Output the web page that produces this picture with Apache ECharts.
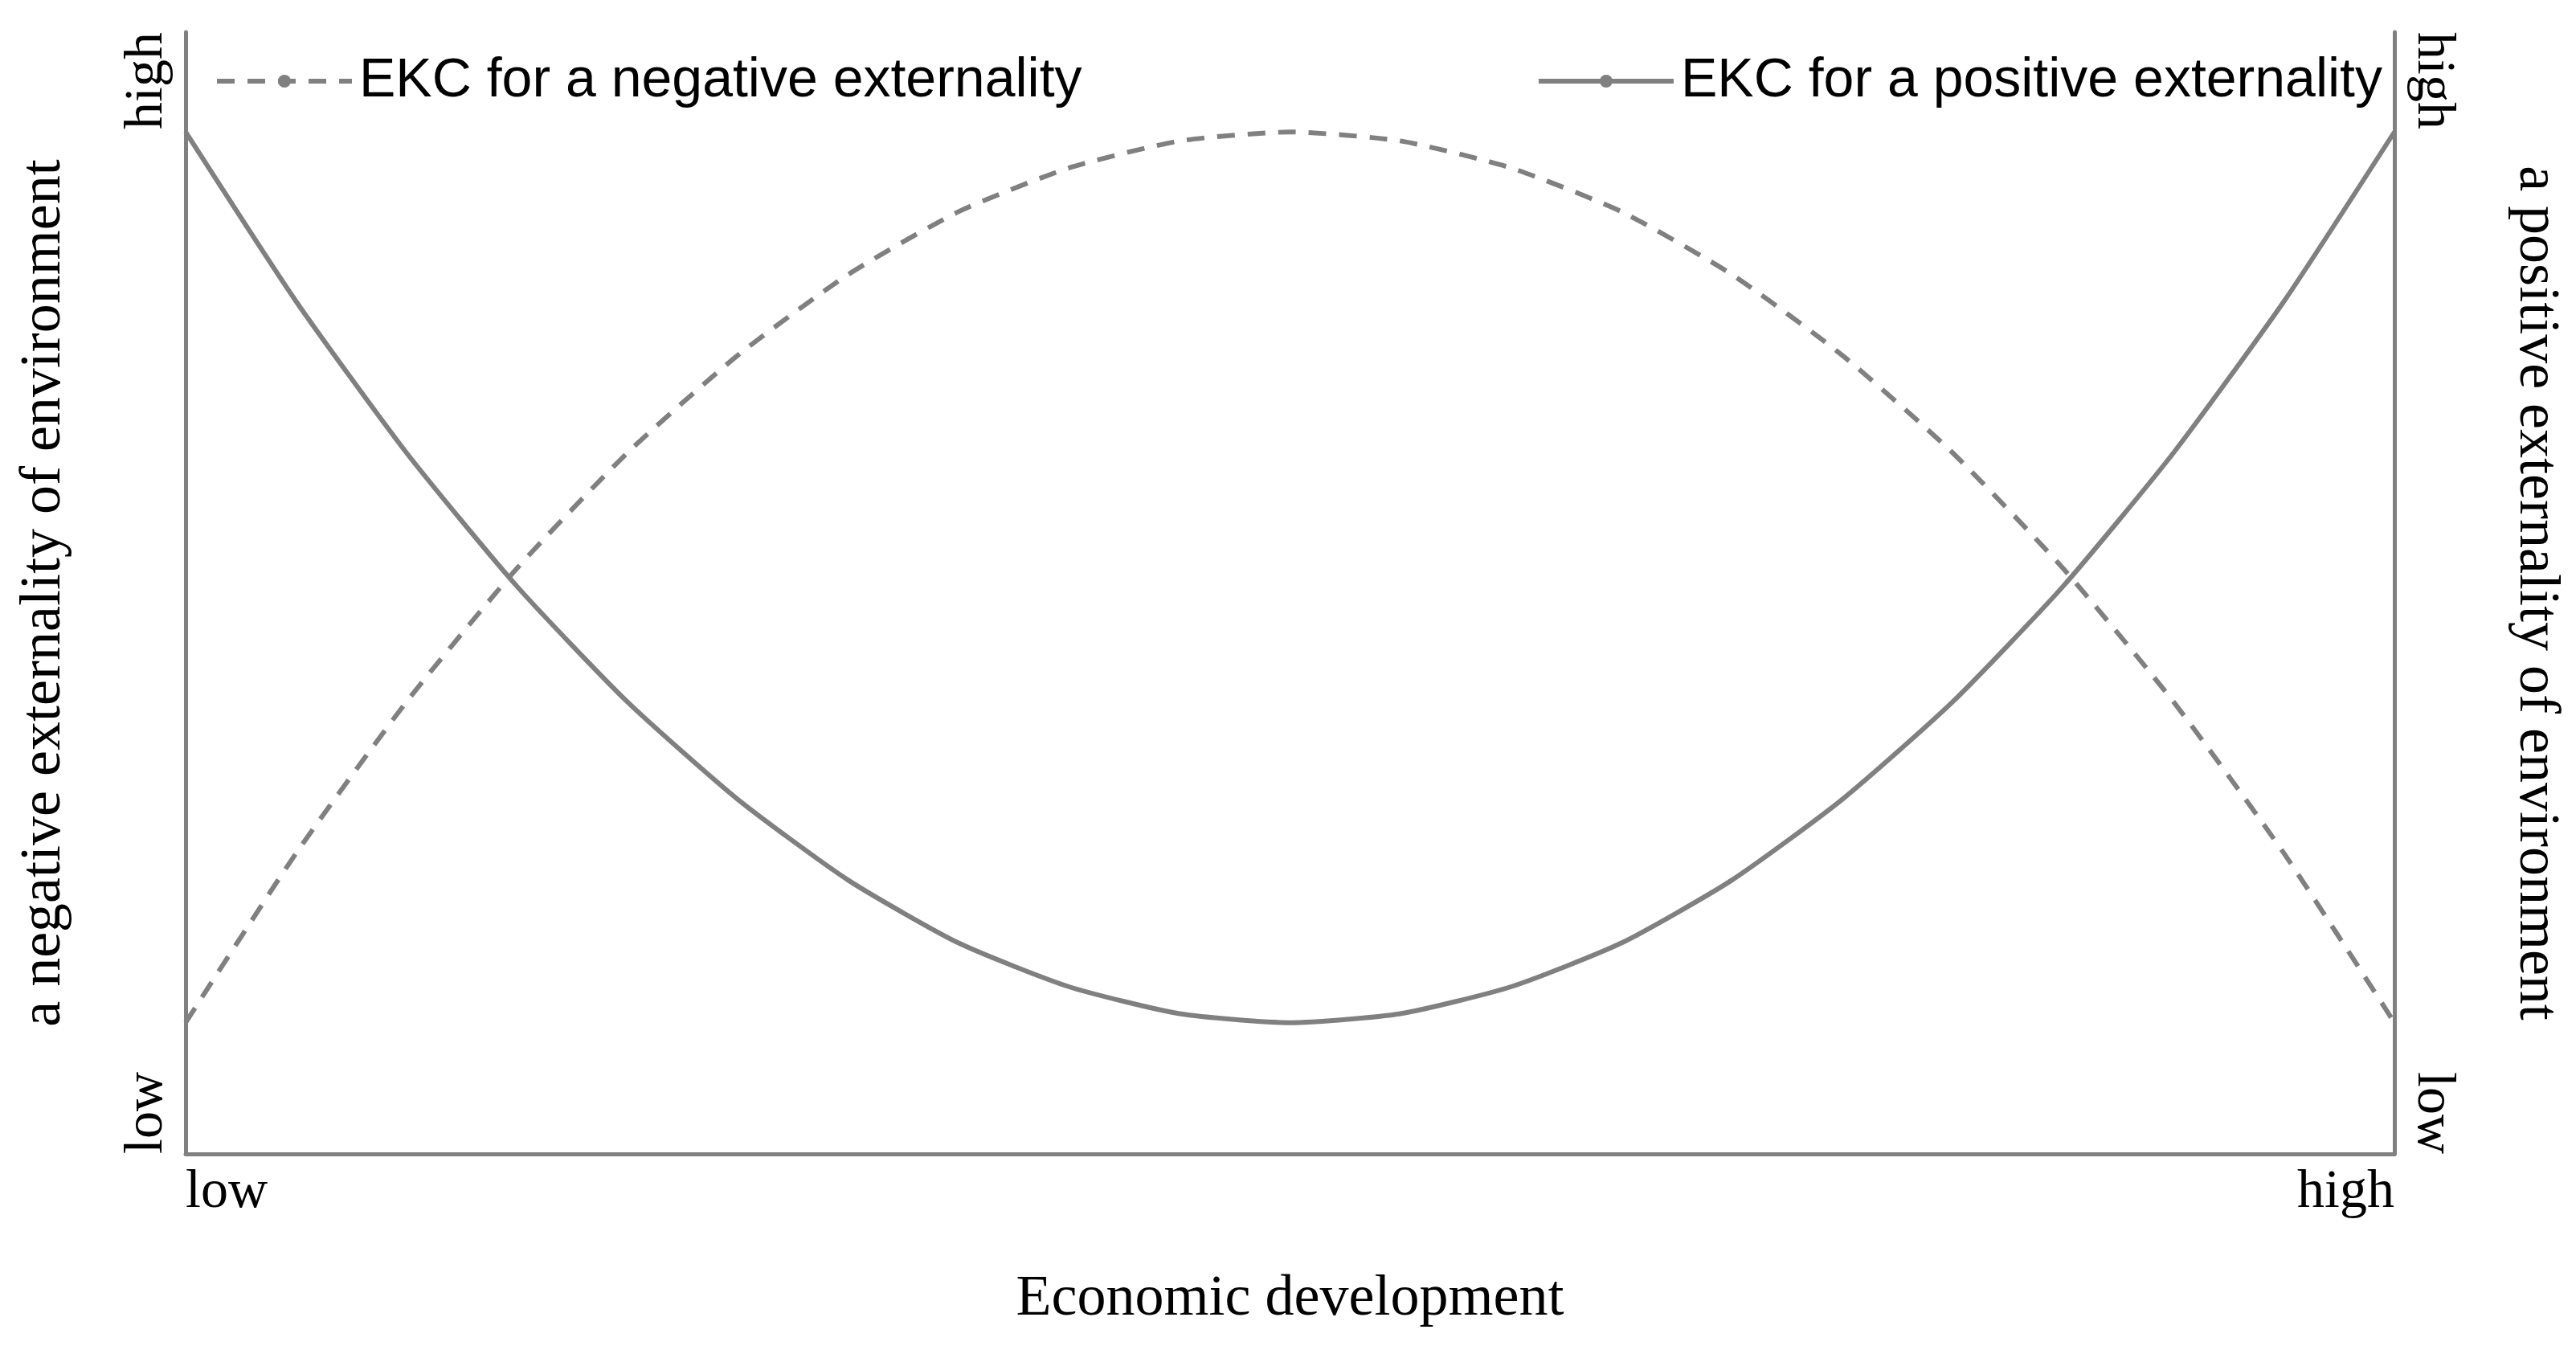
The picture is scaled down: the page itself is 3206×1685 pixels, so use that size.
<!DOCTYPE html>
<html><head><meta charset="utf-8">
<script src="https://cdn.jsdelivr.net/npm/echarts@6/dist/echarts.min.js"></script>
<style>html,body{margin:0;background:#fff}#c{width:3206px;height:1685px}</style>
</head><body><div id="c"></div>
<script>
const xValues = [0,0.05,0.1,0.15,0.2,0.25,0.3,0.35,0.4,0.45,0.5,0.55,0.6,0.65,0.7,0.75,0.8,0.85,0.9,0.95,1];
const negativeEKC = [0.117,0.268,0.403,0.522,0.625,0.712,0.784,0.840,0.879,0.903,0.911,0.903,0.879,0.840,0.784,0.712,0.625,0.522,0.403,0.268,0.117];
const positiveEKC = [0.911,0.760,0.625,0.506,0.403,0.316,0.244,0.188,0.149,0.125,0.117,0.125,0.149,0.188,0.244,0.316,0.403,0.506,0.625,0.760,0.911];
const tickLabels = ['low','high'];
const serif = 'Liberation Serif';
const sans = 'Liberation Sans';
const gray = '#808080';
const chart = echarts.init(document.getElementById('c'));
const lbl = (v)=> v===0?tickLabels[0]:(v===1?tickLabels[1]:'');
chart.setOption({
  animation:false,
  grid:{left:231,right:226,top:40,bottom:249},
  legend:[
    {data:['EKC for a negative externality'],left:262,top:62,itemWidth:168,itemHeight:20,
     lineStyle:{width:6},
     textStyle:{fontFamily:sans,fontSize:68,color:'#000',padding:[0,0,0,4]}},
    {data:['EKC for a positive externality'],right:236,top:62,itemWidth:168,itemHeight:20,
     lineStyle:{width:6},
     textStyle:{fontFamily:sans,fontSize:68,color:'#000',padding:[0,0,0,4]}}
  ],
  xAxis:{type:'value',min:0,max:1,interval:1,
    axisLine:{lineStyle:{color:gray,width:5}},axisTick:{show:false},splitLine:{show:false},
    axisLabel:{formatter:lbl,fontFamily:serif,fontSize:68,color:'#000',margin:14,alignMinLabel:'left',alignMaxLabel:'right'},
    name:'Economic development',nameLocation:'middle',nameGap:145,
    nameTextStyle:{fontFamily:serif,fontSize:72,color:'#000'}},
  yAxis:[
    {type:'value',min:0,max:1,interval:1,position:'left',
     axisLine:{show:true,lineStyle:{color:gray,width:5}},axisTick:{show:false},splitLine:{show:false},
     axisLabel:{formatter:lbl,fontFamily:serif,fontSize:68,color:'#000',rotate:90,margin:14,
       verticalAlignMinLabel:'bottom',verticalAlignMaxLabel:'bottom',alignMinLabel:'left',alignMaxLabel:'right'},
     name:'a negative externality of environment',nameLocation:'middle',nameGap:140,nameRotate:90,
     nameTextStyle:{fontFamily:serif,fontSize:72,color:'#000'}},
    {type:'value',min:0,max:1,interval:1,position:'right',
     axisLine:{show:true,lineStyle:{color:gray,width:5}},axisTick:{show:false},splitLine:{show:false},
     axisLabel:{formatter:lbl,fontFamily:serif,fontSize:68,color:'#000',rotate:-90,margin:14,
       verticalAlignMinLabel:'bottom',verticalAlignMaxLabel:'bottom',alignMinLabel:'right',alignMaxLabel:'left'},
     name:'a positive externality of environment',nameLocation:'middle',nameGap:140,nameRotate:-90,
     nameTextStyle:{fontFamily:serif,fontSize:72,color:'#000'}}
  ],
  series:[
    {name:'EKC for a negative externality',type:'line',smooth:0.2,symbol:'none',yAxisIndex:0,
     data:xValues.map((x,i)=>[x,negativeEKC[i]]),
     lineStyle:{color:gray,width:6,type:[22,16]},itemStyle:{color:gray}},
    {name:'EKC for a positive externality',type:'line',smooth:0.2,symbol:'none',yAxisIndex:1,
     data:xValues.map((x,i)=>[x,positiveEKC[i]]),
     lineStyle:{color:gray,width:6},itemStyle:{color:gray}}
  ]
});
</script></body></html>
